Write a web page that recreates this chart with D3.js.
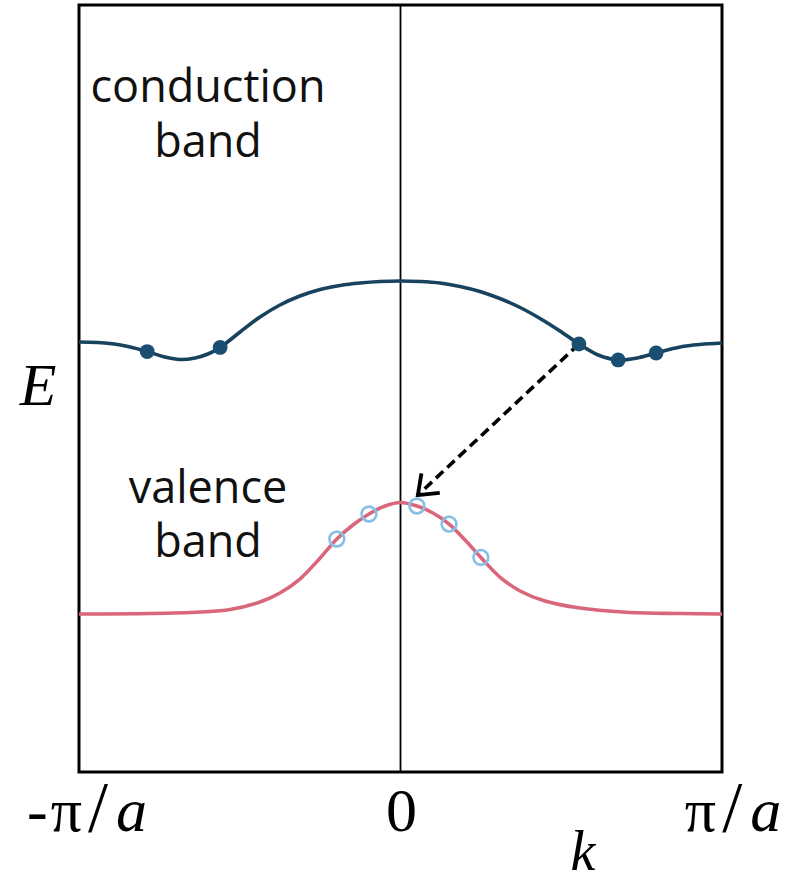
<!DOCTYPE html>
<html>
<head>
<meta charset="utf-8">
<script src="https://cdn.jsdelivr.net/npm/d3@7"></script>
<style>
  html, body { margin: 0; padding: 0; background: #fff; }
  svg { display: block; }
</style>
</head>
<body>
<svg id="chart" width="797" height="884"></svg>
<script>
// Band structure E(k) across the first Brillouin zone, k in units of pi/a.
const conductionK = [-1.000, -0.904, -0.841, -0.788, -0.733, -0.686, -0.639, -0.599, -0.561, -0.499, -0.437, -0.375, -0.313, -0.250, -0.188, -0.126, -0.064, 0.000,
                      0.061, 0.123, 0.185, 0.247, 0.309, 0.372, 0.434, 0.496, 0.555, 0.615, 0.677, 0.736, 0.795, 0.870, 0.932, 1.000];
const conductionE = [5.606, 5.587, 5.541, 5.482, 5.411, 5.378, 5.398, 5.450, 5.535, 5.737, 5.932, 6.089, 6.206, 6.291, 6.343, 6.375, 6.395, 6.402,
                      6.395, 6.375, 6.330, 6.265, 6.173, 6.056, 5.913, 5.750, 5.580, 5.437, 5.372, 5.398, 5.463, 5.541, 5.574, 5.593];

const valenceK = [-1.000, -0.779, -0.624, -0.530, -0.437, -0.375, -0.313, -0.250, -0.198, -0.148, -0.098, -0.048, 0.000,
                   0.051, 0.101, 0.151, 0.201, 0.250, 0.309, 0.372, 0.449, 0.558, 0.714, 0.870, 1.000];
const valenceE = [2.060, 2.066, 2.086, 2.119, 2.216, 2.334, 2.516, 2.790, 3.038, 3.220, 3.364, 3.468, 3.514,
                   3.468, 3.377, 3.233, 3.025, 2.797, 2.542, 2.360, 2.229, 2.138, 2.080, 2.066, 2.060];

// Electrons in the conduction band (filled) and holes in the valence band (open)
const electronK = [-0.788, -0.561, 0.555, 0.677, 0.795];
const electronE = [5.482, 5.535, 5.580, 5.372, 5.463];
const holeK = [-0.198, -0.098, 0.051, 0.151, 0.250];
const holeE = [3.038, 3.364, 3.468, 3.233, 2.797];

// Indirect transition: electron drops to the valence-band maximum region
const transitionFrom = [0.555, 5.58];
const transitionTo = [0.054, 3.61];

const tickK = [-1, 0, 1];
const tickLabels = ["-π/a", "0", "π/a"];

const svg = d3.select("#chart");
const plotLeft = 79, plotRight = 722, plotTop = 5, plotBottom = 772;

const x = d3.scaleLinear().domain([-1, 1]).range([plotLeft, plotRight]);
const y = d3.scaleLinear().domain([0, 10]).range([plotBottom, plotTop]);

const line = d3.line()
  .x(d => x(d[0]))
  .y(d => y(d[1]))
  .curve(d3.curveCatmullRom.alpha(0.5));

const conduction = d3.zip(conductionK, conductionE);
const valence = d3.zip(valenceK, valenceE);

// Frame
svg.append("rect")
  .attr("x", plotLeft).attr("y", plotTop)
  .attr("width", plotRight - plotLeft).attr("height", plotBottom - plotTop)
  .attr("fill", "none").attr("stroke", "#000").attr("stroke-width", 3);

// k = 0 line
svg.append("line")
  .attr("x1", x(0)).attr("x2", x(0))
  .attr("y1", plotTop).attr("y2", plotBottom)
  .attr("stroke", "#000").attr("stroke-width", 1.8);

// Bands
svg.append("path").datum(conduction)
  .attr("d", line).attr("fill", "none")
  .attr("stroke", "#18435f").attr("stroke-width", 3.6);

svg.append("path").datum(valence)
  .attr("d", line).attr("fill", "none")
  .attr("stroke", "#d9667a").attr("stroke-width", 3.6);

// Transition arrow
const x0 = x(transitionFrom[0]), y0 = y(transitionFrom[1]);
const x1 = x(transitionTo[0]), y1 = y(transitionTo[1]);
svg.append("line")
  .attr("x1", x0).attr("y1", y0).attr("x2", x1).attr("y2", y1)
  .attr("stroke", "#000").attr("stroke-width", 3.6)
  .attr("stroke-dasharray", "10,5.5");
const ang = Math.atan2(y1 - y0, x1 - x0);
const wing = 22, spread = Math.PI / 4.8;
svg.append("path")
  .attr("d", d3.line()([
    [x1 - wing * Math.cos(ang - spread), y1 - wing * Math.sin(ang - spread)],
    [x1, y1],
    [x1 - wing * Math.cos(ang + spread), y1 - wing * Math.sin(ang + spread)]
  ]))
  .attr("fill", "none").attr("stroke", "#000")
  .attr("stroke-width", 3.8).attr("stroke-linejoin", "miter");

// Electrons
svg.selectAll("circle.electron")
  .data(d3.zip(electronK, electronE))
  .join("circle").attr("class", "electron")
  .attr("cx", d => x(d[0])).attr("cy", d => y(d[1]))
  .attr("r", 7.4).attr("fill", "#1b4f72");

// Holes
svg.selectAll("circle.hole")
  .data(d3.zip(holeK, holeE))
  .join("circle").attr("class", "hole")
  .attr("cx", d => x(d[0])).attr("cy", d => y(d[1]))
  .attr("r", 7.4).attr("fill", "none")
  .attr("stroke", "#86c0e6").attr("stroke-width", 2.6);

// Band labels
const sans = "'Open Sans', 'Noto Sans', sans-serif";
const labels = [
  { t: "conduction", cx: 208, by: 102 },
  { t: "band", cx: 208, by: 157 },
  { t: "valence", cx: 208, by: 503 },
  { t: "band", cx: 208, by: 557 }
];
svg.selectAll("text.band")
  .data(labels)
  .join("text").attr("class", "band")
  .attr("x", d => d.cx).attr("y", d => d.by)
  .attr("text-anchor", "middle")
  .attr("font-family", sans).attr("font-size", 45)
  .attr("fill", "#111")
  .text(d => d.t);

// Axis tick labels (math style)
const serif = "'Liberation Serif', 'DejaVu Serif', serif";
const ticks = svg.selectAll("text.tick")
  .data(tickK.map((k, i) => ({ k, s: tickLabels[i] })))
  .join("text").attr("class", "tick")
  .attr("x", d => x(d.k) + (d.k < 0 ? 8 : d.k > 0 ? 11 : 1))
  .attr("y", 831)
  .attr("text-anchor", "middle")
  .attr("font-family", serif).attr("font-size", 62)
  .attr("fill", "#000");
ticks.each(function(d) {
  const t = d3.select(this);
  if (d.s === "0") { t.text("0"); return; }
  const m = d.s.match(/^(-?)(π)\/(a)$/);
  if (m[1]) t.append("tspan").text(m[1]);
  t.append("tspan").attr("dx", m[1] ? 3 : 0).text(m[2]);
  t.append("tspan").attr("dx", 6).attr("font-size", 72).text("/");
  t.append("tspan").attr("dx", 8).attr("font-style", "italic").text(m[3]);
});

// Axis titles
svg.append("text")
  .attr("x", 583).attr("y", 870)
  .attr("text-anchor", "middle")
  .attr("font-family", serif).attr("font-style", "italic")
  .attr("font-size", 56).attr("fill", "#000")
  .text("k");

svg.append("text")
  .attr("x", 38).attr("y", 405)
  .attr("text-anchor", "middle")
  .attr("font-family", serif).attr("font-style", "italic")
  .attr("font-size", 60).attr("fill", "#000")
  .text("E");
</script>
</body>
</html>
